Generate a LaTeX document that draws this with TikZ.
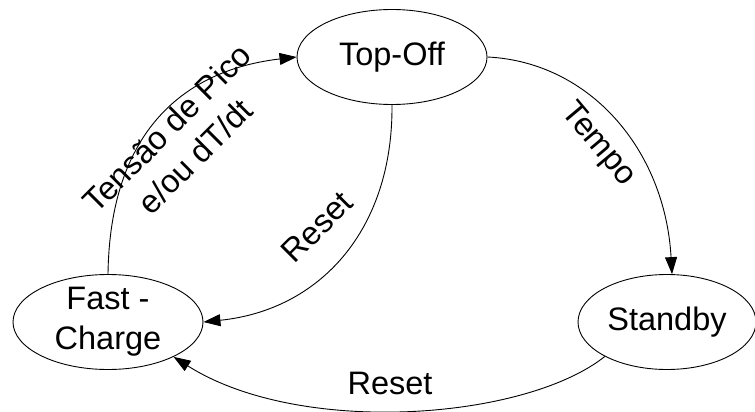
\documentclass[tikz,border=0pt]{standalone}
\usepackage{fontspec}
\setmainfont{Liberation Sans}
\usetikzlibrary{shapes.geometric,arrows.meta}
\newcommand\statefont{\fontsize{32.5}{40}\selectfont}
\begin{document}
\begin{tikzpicture}[x=1pt,y=-1pt,
  state/.style={ellipse, draw, line width=0.9pt, inner sep=-10pt,
    minimum width=190pt, minimum height=95pt, align=center, font=\statefont},
  lbl/.style={inner sep=0pt, align=center, font=\statefont},
  trans/.style={line width=0.9pt, -{Triangle[length=17pt,width=12pt]}}]

% canvas
\fill[white] (0,0) rectangle (755,412);
\useasboundingbox (0,0) rectangle (755,412);

% states
\node[state] (to) at (392,57) {Top-Off};
\node[state] (fc) at (108,322) {Fast -\\Charge};
\node[state, minimum width=178pt] (sb) at (667,322) {Standby};

% transitions
\draw[trans] (fc.north) .. controls (110,130) and (185,70) .. (to.west);
\draw[trans] (to.east) .. controls (590,62) and (665,150) .. (sb.84);
\draw[trans] (to.south) .. controls (393,230) and (320,310) .. (fc.east);
\draw[trans] (sb.209) .. controls (525,420) and (300,437) .. (fc.332);

% transition labels
\node[lbl, rotate=45] (lpico) at (181,142) {Tensão de Pico\\e/ou dT/dt};
\node[lbl, rotate=-50] (ltempo) at (598,145) {Tempo};
\node[lbl, rotate=45] (lresetA) at (317,227) {Reset};
\node[lbl] (lresetB) at (390,383) {Reset};
\end{tikzpicture}
\end{document}
